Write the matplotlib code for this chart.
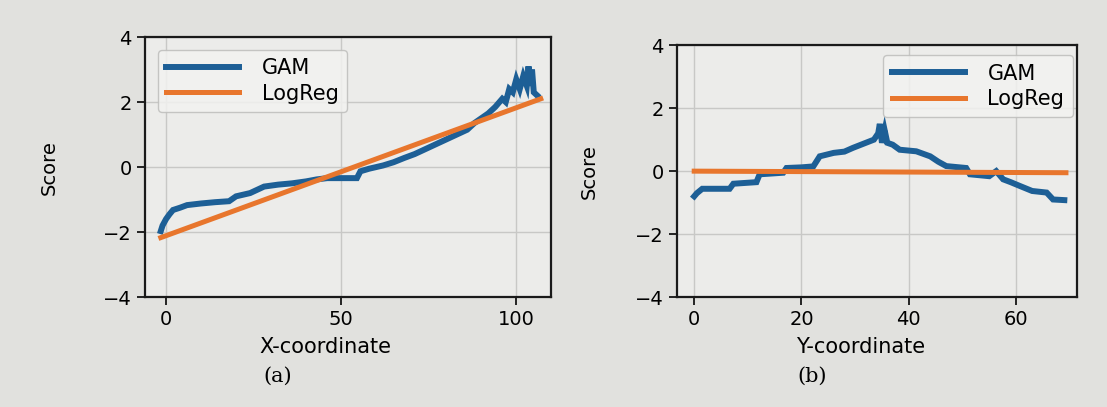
import matplotlib
matplotlib.use("Agg")
import matplotlib.pyplot as plt

# ---- data ----
x_gam_a = [-1.5, -1, 0, 1, 2, 4, 6, 10, 14, 18, 20, 24, 28, 32, 36, 40, 43, 46, 50,
           54.5, 55.5, 58, 62, 65, 68, 71, 74, 77, 80, 83, 86, 88, 90, 92, 94, 96,
           97, 98, 99, 100, 101, 102, 103, 103.5, 104, 104.5, 105, 106]
y_gam_a = [-1.97, -1.8, -1.6, -1.45, -1.32, -1.25, -1.17, -1.12, -1.08, -1.05, -0.9,
           -0.8, -0.6, -0.54, -0.5, -0.44, -0.38, -0.34, -0.34, -0.34, -0.13, -0.05,
           0.05, 0.15, 0.28, 0.4, 0.55, 0.7, 0.85, 1.0, 1.15, 1.35, 1.5, 1.65, 1.85,
           2.1, 2.0, 2.4, 2.3, 2.7, 2.4, 2.8, 2.5, 3.1, 2.5, 3.0, 2.3, 2.2]
x_lr_a = [-1.5, 107]
y_lr_a = [-2.17, 2.1]

x_gam_b = [0, 0.5, 1.5, 3, 5, 6.6, 7.3, 9, 11.6, 12.2, 14, 16.6, 17.2, 20, 22.2, 23.4,
           26, 28, 29.6, 32, 33.5, 34.3, 34.6, 35, 35.5, 36, 37, 38.3, 41.4, 44, 45.5,
           47, 50.7, 51.4, 55, 56.3, 57.6, 59, 60.7, 63, 65.7, 66.9, 69]
y_gam_b = [-0.8, -0.7, -0.56, -0.56, -0.56, -0.56, -0.4, -0.38, -0.35, -0.1, -0.08,
           -0.05, 0.1, 0.12, 0.15, 0.47, 0.58, 0.62, 0.74, 0.9, 1.0, 1.2, 1.5, 0.9, 1.3,
           0.9, 0.84, 0.68, 0.63, 0.47, 0.3, 0.16, 0.1, -0.1, -0.16, 0.0, -0.26, -0.35,
           -0.47, -0.63, -0.68, -0.9, -0.92]
x_lr_b = [0, 69.3]
y_lr_b = [0.0, -0.05]

series_labels = ["GAM", "LogReg"]
xlabels = ["X-coordinate", "Y-coordinate"]
ylabel = "Score"
captions = ["(a)", "(b)"]
yticks = [-4, -2, 0, 2, 4]
xticks_a = [0, 50, 100]
xticks_b = [0, 20, 40, 60]

BLUE = "#1d5f96"
ORANGE = "#e8762d"
FIG_BG = "#e1e1de"
AX_BG = "#ececea"

fig = plt.figure(figsize=(11.07, 4.07), dpi=100, facecolor=FIG_BG)
ax1 = fig.add_axes([0.131, 0.270, 0.367, 0.639])
ax2 = fig.add_axes([0.6116, 0.270, 0.361, 0.619])

configs = [
    (ax1, x_gam_a, y_gam_a, x_lr_a, y_lr_a, xticks_a, (-6, 110), xlabels[0],
     (0.443, -0.154), (-0.213, 0.5), "upper left", (0.032, 0.95)),
    (ax2, x_gam_b, y_gam_b, x_lr_b, y_lr_b, xticks_b, (-3.2, 71.3), xlabels[1],
     (0.46, -0.159), (-0.196, 0.5), "upper right", (0.99, 0.96)),
]

for (ax, xg, yg, xl, yl, xt, xlim, xlab, xlc, ylc, lloc, lanchor) in configs:
    ax.set_facecolor(AX_BG)
    ax.plot(xg, yg, color=BLUE, lw=4.3, label=series_labels[0], solid_joinstyle="miter")
    ax.plot(xl, yl, color=ORANGE, lw=3.6, label=series_labels[1])
    ax.set_xlim(*xlim)
    ax.set_ylim(-4, 4)
    ax.set_xticks(xt)
    ax.set_yticks(yticks)
    ax.grid(True, color="#c8c8c6", lw=1.0)
    ax.set_axisbelow(True)
    ax.tick_params(labelsize=14, width=1.4, length=6, color="#222222")
    for s in ax.spines.values():
        s.set_linewidth(1.6)
        s.set_color("#1a1a1a")
    ax.set_xlabel(xlab, fontsize=15)
    ax.set_ylabel(ylabel, fontsize=14)
    ax.xaxis.set_label_coords(*xlc)
    ax.yaxis.set_label_coords(*ylc)
    leg = ax.legend(loc=lloc, bbox_to_anchor=lanchor, fontsize=15, handlelength=3.5,
                    borderpad=0.4, labelspacing=0.25, handletextpad=1.1,
                    borderaxespad=0.0, fancybox=True, framealpha=0.85)
    leg.get_frame().set_facecolor("#f2f2f0")
    leg.get_frame().set_edgecolor("#bdbdbb")

fig.text(0.251, 0.076, captions[0], ha="center", va="center", fontsize=15,
         family="DejaVu Serif")
fig.text(0.7335, 0.076, captions[1], ha="center", va="center", fontsize=15,
         family="DejaVu Serif")

fig.savefig("out.png", dpi=100, facecolor=FIG_BG)
